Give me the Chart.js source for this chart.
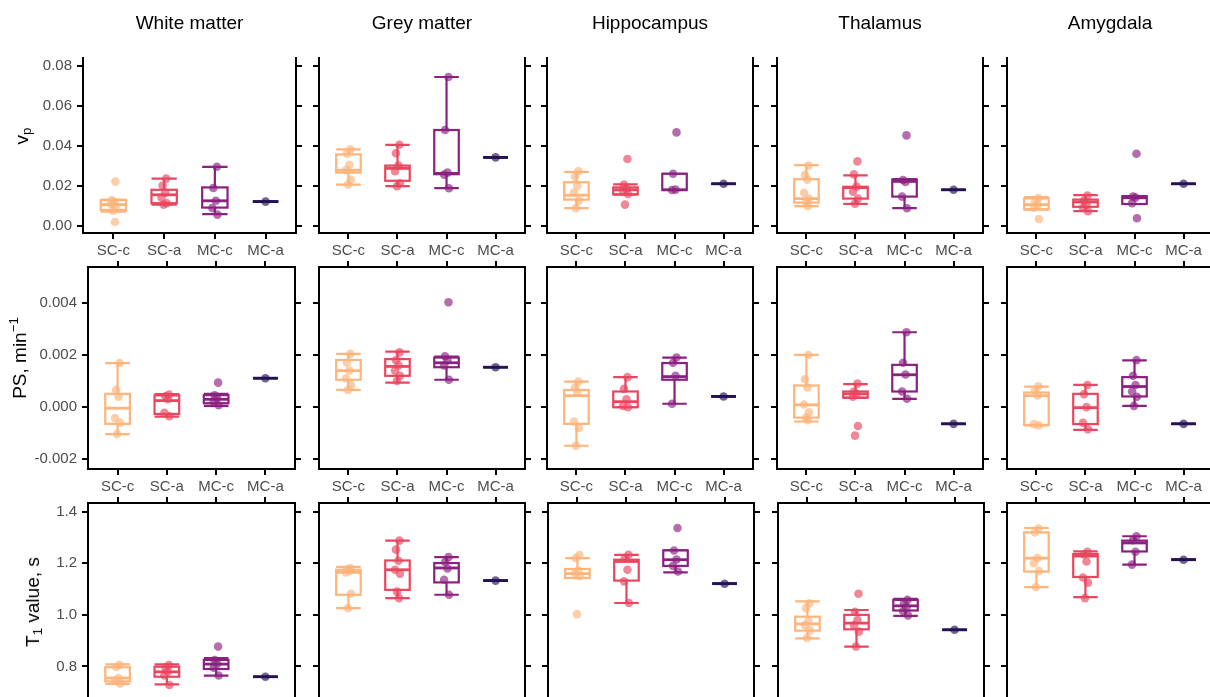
<!DOCTYPE html>
<html>
<head>
<meta charset="utf-8">
<title>vp, PS and T1 by region</title>
<script src="https://cdn.jsdelivr.net/npm/chart.js@4.4.1/dist/chart.umd.min.js"></script>
<style>
  html, body { margin: 0; padding: 0; background: #fff; }
  body { width: 1210px; height: 697px; overflow: hidden; position: relative; font-family: "Liberation Sans", Arial, sans-serif; }
  canvas { position: absolute; }
  .col-title { position: absolute; top: 12px; font-size: 19px; line-height: 22px; transform: translateX(-50%); white-space: nowrap; color: #000; }
  .row-title { position: absolute; font-size: 19px; line-height: 22px; white-space: nowrap; transform: translate(-50%, -50%) rotate(-90deg); color: #000; }
  .row-title .sub { font-size: 70%; vertical-align: -0.25em; line-height: 0; }
  .row-title .sup { font-size: 70%; vertical-align: 0.6em; line-height: 0; }
</style>
</head>
<body>
<script>
// =============================
// DATA
// =============================
const GROUPS = ["SC-c", "SC-a", "MC-c", "MC-a"];
const REGIONS = ["White matter", "Grey matter", "Hippocampus", "Thalamus", "Amygdala"];
const COLORS = ["#FEB47B", "#E8475F", "#8A2180", "#251255"];

const vpTicks = [0, 0.02, 0.04, 0.06, 0.08];
const psTicks = [-0.002, 0, 0.002, 0.004];
const t1Ticks = [0.8, 1.0, 1.2, 1.4];

// box stats per region, per group: [lower whisker, q1, median, q3, upper whisker]
const vpBoxes = [
  [[0.0070, 0.0078, 0.0105, 0.0127, 0.0130], [0.0105, 0.0112, 0.0154, 0.0179, 0.0235], [0.0057, 0.0090, 0.0124, 0.0191, 0.0294], [0.0120, 0.0120, 0.0120, 0.0120, 0.0120]],
  [[0.0205, 0.0265, 0.0277, 0.0356, 0.0381], [0.0197, 0.0224, 0.0286, 0.0300, 0.0404], [0.0187, 0.0257, 0.0261, 0.0478, 0.0743], [0.0341, 0.0341, 0.0341, 0.0341, 0.0341]],
  [[0.0087, 0.0130, 0.0152, 0.0217, 0.0269], [0.0155, 0.0157, 0.0179, 0.0191, 0.0206], [0.0178, 0.0178, 0.0179, 0.0259, 0.0259], [0.0209, 0.0209, 0.0209, 0.0209, 0.0209]],
  [[0.0097, 0.0115, 0.0135, 0.0232, 0.0302], [0.0109, 0.0135, 0.0190, 0.0194, 0.0251], [0.0087, 0.0145, 0.0221, 0.0230, 0.0232], [0.0179, 0.0179, 0.0179, 0.0179, 0.0179]],
  [[0.0080, 0.0082, 0.0105, 0.0136, 0.0142], [0.0072, 0.0094, 0.0118, 0.0130, 0.0152], [0.0108, 0.0108, 0.0139, 0.0147, 0.0147], [0.0209, 0.0209, 0.0209, 0.0209, 0.0209]]
];
const vpPoints = [
  [[0.0220, 0.0128, 0.0118, 0.0108, 0.0095, 0.0075, 0.0018], [0.0235, 0.0200, 0.0165, 0.0140, 0.0112, 0.0105], [0.0294, 0.0188, 0.0124, 0.0088, 0.0055], [0.0120]],
  [[0.0381, 0.0360, 0.0304, 0.0278, 0.0229, 0.0205], [0.0404, 0.0362, 0.0300, 0.0272, 0.0212, 0.0197], [0.0743, 0.0478, 0.0265, 0.0255, 0.0187], [0.0341]],
  [[0.0272, 0.0245, 0.0200, 0.0165, 0.0125, 0.0087], [0.0333, 0.0205, 0.0185, 0.0172, 0.0158, 0.0105], [0.0466, 0.0259, 0.0180, 0.0178], [0.0209]],
  [[0.0300, 0.0254, 0.0230, 0.0164, 0.0135, 0.0115, 0.0097], [0.0321, 0.0256, 0.0195, 0.0170, 0.0135, 0.0110], [0.0451, 0.0228, 0.0218, 0.0145, 0.0087], [0.0179]],
  [[0.0138, 0.0122, 0.0105, 0.0090, 0.0033], [0.0150, 0.0125, 0.0105, 0.0090, 0.0072], [0.0359, 0.0145, 0.0140, 0.0112, 0.0037], [0.0209]]
];

const psBoxes = [
  [[-0.00103, -0.00064, -0.00004, 0.00051, 0.00169], [-0.00036, -0.00026, 0.00025, 0.00045, 0.00050], [0.00005, 0.00015, 0.00030, 0.00046, 0.00051], [0.00111, 0.00111, 0.00111, 0.00111, 0.00111]],
  [[0.00066, 0.00105, 0.00140, 0.00181, 0.00204], [0.00094, 0.00120, 0.00156, 0.00184, 0.00213], [0.00105, 0.00153, 0.00170, 0.00190, 0.00194], [0.00153, 0.00153, 0.00153, 0.00153, 0.00153]],
  [[-0.00148, -0.00064, 0.00044, 0.00066, 0.00098], [0.00000, 0.00000, 0.00021, 0.00060, 0.00115], [0.00013, 0.00105, 0.00117, 0.00169, 0.00190], [0.00041, 0.00041, 0.00041, 0.00041, 0.00041]],
  [[-0.00055, -0.00040, 0.00009, 0.00083, 0.00200], [0.00035, 0.00037, 0.00051, 0.00060, 0.00088], [0.00032, 0.00060, 0.00124, 0.00162, 0.00287], [-0.00064, -0.00064, -0.00064, -0.00064, -0.00064]],
  [[-0.00070, -0.00068, 0.00044, 0.00056, 0.00079], [-0.00087, -0.00065, -0.00002, 0.00051, 0.00085], [0.00005, 0.00041, 0.00079, 0.00115, 0.00179], [-0.00064, -0.00064, -0.00064, -0.00064, -0.00064]]
];
const psPoints = [
  [[0.00169, 0.00066, 0.00040, -0.00042, -0.00060, -0.00103], [0.00048, 0.00042, 0.00030, -0.00022, -0.00035], [0.00094, 0.00045, 0.00035, 0.00020, 0.00007], [0.00111]],
  [[0.00204, 0.00170, 0.00140, 0.00110, 0.00085, 0.00066], [0.00210, 0.00180, 0.00160, 0.00140, 0.00120, 0.00100], [0.00402, 0.00195, 0.00180, 0.00160, 0.00105], [0.00153]],
  [[0.00098, 0.00075, 0.00055, -0.00055, -0.00080, -0.00148], [0.00115, 0.00070, 0.00030, 0.00005, 0.00000], [0.00190, 0.00170, 0.00120, 0.00013], [0.00041]],
  [[0.00200, 0.00107, 0.00075, 0.00010, -0.00020, -0.00040, -0.00050], [0.00090, 0.00060, 0.00050, 0.00040, -0.00072, -0.00109], [0.00287, 0.00170, 0.00125, 0.00060, 0.00032], [-0.00064]],
  [[0.00080, 0.00065, 0.00045, -0.00065, -0.00070], [0.00085, 0.00050, 0.00000, -0.00060, -0.00085], [0.00180, 0.00120, 0.00085, 0.00060, 0.00040, 0.00005], [-0.00064]]
];

const t1Boxes = [
  [[0.732, 0.742, 0.755, 0.797, 0.808], [0.730, 0.760, 0.779, 0.799, 0.808], [0.764, 0.790, 0.809, 0.825, 0.832], [0.760, 0.760, 0.760, 0.760, 0.760]],
  [[1.026, 1.078, 1.165, 1.175, 1.186], [1.065, 1.097, 1.175, 1.211, 1.288], [1.078, 1.126, 1.182, 1.201, 1.224], [1.133, 1.133, 1.133, 1.133, 1.133]],
  [[1.143, 1.143, 1.160, 1.178, 1.220], [1.046, 1.133, 1.207, 1.214, 1.233], [1.165, 1.190, 1.214, 1.250, 1.250], [1.121, 1.121, 1.121, 1.121, 1.121]],
  [[0.909, 0.939, 0.965, 0.993, 1.052], [0.877, 0.944, 0.968, 1.000, 1.019], [0.996, 1.017, 1.035, 1.058, 1.062], [0.942, 0.942, 0.942, 0.942, 0.942]],
  [[1.108, 1.168, 1.220, 1.320, 1.337], [1.069, 1.147, 1.228, 1.236, 1.246], [1.195, 1.246, 1.279, 1.288, 1.305], [1.214, 1.214, 1.214, 1.214, 1.214]]
];
const t1Points = [
  [[0.806, 0.798, 0.755, 0.745, 0.733], [0.805, 0.795, 0.780, 0.765, 0.728], [0.877, 0.825, 0.810, 0.795, 0.765], [0.760]],
  [[1.182, 1.176, 1.170, 1.165, 1.082, 1.026], [1.288, 1.253, 1.210, 1.175, 1.160, 1.090, 1.065], [1.224, 1.205, 1.180, 1.136, 1.078], [1.133]],
  [[1.232, 1.220, 1.172, 1.160, 1.150, 1.003], [1.233, 1.220, 1.175, 1.130, 1.046], [1.337, 1.250, 1.215, 1.190, 1.168], [1.121]],
  [[1.045, 1.026, 0.975, 0.960, 0.940, 0.910], [1.082, 1.012, 0.980, 0.960, 0.935, 0.877], [1.058, 1.045, 1.030, 1.015, 0.998], [0.942]],
  [[1.335, 1.320, 1.220, 1.200, 1.170, 1.108], [1.245, 1.235, 1.207, 1.145, 1.125, 1.065], [1.305, 1.290, 1.245, 1.195], [1.214]]
];

// small fixed horizontal offsets so overlapping points separate a little
const JITTER = [0.04, -0.03, 0.02, -0.05, 0.05, -0.01, 0.03];

// =============================
// Layout
// =============================
const ROWS = [
  { boxes: vpBoxes, points: vpPoints, ticks: vpTicks, digits: 2, min: -0.0037, max: 0.0838, top: 38, height: 195, topAxis: false,
    lefts: [83, 319, 547, 777, 1007], widths: [213, 206, 206, 206, 206] },
  { boxes: psBoxes, points: psPoints, ticks: psTicks, digits: 3, min: -0.00237, max: 0.00537, top: 267, height: 202, topAxis: true,
    lefts: [88, 319, 547, 777, 1007], widths: [207, 206, 206, 206, 206] },
  { boxes: t1Boxes, points: t1Points, ticks: t1Ticks, digits: 1, min: 0.662, max: 1.434, top: 503, height: 199, topAxis: true,
    lefts: [88, 319, 548, 778, 1007], widths: [207, 206, 206, 206, 206] }
];
const ROW_TITLES = [
  { html: 'v<span class="sub">p</span>', x: 22, y: 136 },
  { html: 'PS, min<span class="sup">\u22121</span>', x: 20, y: 358 },
  { html: 'T<span class="sub">1</span> value, s', x: 33, y: 602 }
];

const FONT = { family: "'Liberation Sans', Arial, sans-serif", size: 15 };
const TICK_COLOR = "#4D4D4D";
const BOX_HALF = 0.25;

function rgba(hex, a) {
  const n = parseInt(hex.slice(1), 16);
  return `rgba(${(n >> 16) & 255}, ${(n >> 8) & 255}, ${n & 255}, ${a})`;
}

// =============================
// Box + whisker plugin (drawn through the chart's scales)
// =============================
function boxPlugin(stats) {
  return {
    id: "boxes",
    beforeDatasetsDraw(chart) {
      const { ctx, scales: { x, y } } = chart;
      stats.forEach((s, i) => {
        const [lo, q1, med, q3, hi] = s.map(v => y.getPixelForValue(v));
        const xm = x.getPixelForValue(i + 1);
        const xl = x.getPixelForValue(i + 1 - BOX_HALF);
        const xr = x.getPixelForValue(i + 1 + BOX_HALF);
        ctx.save();
        ctx.strokeStyle = COLORS[i];
        ctx.lineWidth = 2.2;
        ctx.beginPath();
        ctx.moveTo(xm, hi); ctx.lineTo(xm, q3);
        ctx.moveTo(xm, q1); ctx.lineTo(xm, lo);
        ctx.moveTo(xl, hi); ctx.lineTo(xr, hi);
        ctx.moveTo(xl, lo); ctx.lineTo(xr, lo);
        ctx.stroke();
        ctx.fillStyle = "#fff";
        ctx.fillRect(xl, q3, xr - xl, q1 - q3);
        ctx.strokeRect(xl, q3, xr - xl, q1 - q3);
        ctx.lineWidth = 2.8;
        ctx.beginPath();
        ctx.moveTo(xl, med); ctx.lineTo(xr, med);
        ctx.stroke();
        ctx.restore();
      });
    }
  };
}

// =============================
// Panels
// =============================
function axisStyle() {
  return {
    grid: { display: true, drawOnChartArea: false, drawTicks: true, tickLength: 6, lineWidth: 2, tickWidth: 2, tickColor: "#000" },
    border: { display: true, color: "#000", width: 2 }
  };
}

function makePanel(r, c) {
  const row = ROWS[r];
  const L = c === 0 ? 70 : 12, R = 12, T = 20, B = 28;
  const W = row.widths[c], H = row.height;

  const canvas = document.createElement("canvas");
  canvas.width = L + W + R;
  canvas.height = T + H + B;
  canvas.style.left = (row.lefts[c] - L) + "px";
  canvas.style.top = (row.top - T) + "px";
  document.body.appendChild(canvas);

  const groupTicks = s => { s.ticks = GROUPS.map((g, i) => ({ value: i + 1 })); };
  const valueTicks = s => { s.ticks = row.ticks.map(v => ({ value: v })); };

  const datasets = GROUPS.map((g, i) => ({
    label: g,
    data: row.points[c][i].map((v, k) => ({ x: i + 1 + (row.points[c][i].length > 1 ? JITTER[k % JITTER.length] : 0), y: v })),
    backgroundColor: rgba(COLORS[i], 0.65),
    borderWidth: 0,
    pointRadius: 4.3,
    xAxisID: "x",
    yAxisID: "y"
  }));

  new Chart(canvas, {
    type: "scatter",
    data: { datasets },
    plugins: [boxPlugin(row.boxes[c])],
    options: {
      responsive: false,
      animation: false,
      devicePixelRatio: 1,
      events: [],
      layout: { padding: { top: row.topAxis ? 0 : T, left: 0, right: 0, bottom: 0 } },
      plugins: { legend: { display: false }, tooltip: { enabled: false } },
      scales: {
        x: {
          ...axisStyle(), type: "linear", position: "bottom", min: 0.4, max: 4.6,
          afterBuildTicks: groupTicks,
          afterFit: s => { s.height = B; },
          ticks: { callback: v => GROUPS[Math.round(v) - 1], font: FONT, color: TICK_COLOR, padding: 3, maxRotation: 0, autoSkip: false }
        },
        x2: {
          ...axisStyle(), type: "linear", position: "top", min: 0.4, max: 4.6, display: row.topAxis,
          afterBuildTicks: groupTicks,
          afterFit: s => { s.height = T; },
          ticks: { display: false }
        },
        y: {
          ...axisStyle(), type: "linear", position: "left", min: row.min, max: row.max,
          afterBuildTicks: valueTicks,
          afterFit: s => { s.width = L; },
          ticks: { display: c === 0, callback: v => v.toFixed(row.digits), font: FONT, color: TICK_COLOR, padding: 5 }
        },
        y2: {
          ...axisStyle(), type: "linear", position: "right", min: row.min, max: row.max,
          afterBuildTicks: valueTicks,
          afterFit: s => { s.width = R; },
          ticks: { display: false }
        }
      }
    }
  });
}

ROWS.forEach((row, r) => REGIONS.forEach((name, c) => makePanel(r, c)));

// =============================
// Titles
// =============================
REGIONS.forEach((name, c) => {
  const d = document.createElement("div");
  d.className = "col-title";
  d.textContent = name;
  d.style.left = (ROWS[0].lefts[c] + ROWS[0].widths[c] / 2) + "px";
  document.body.appendChild(d);
});

ROW_TITLES.forEach(t => {
  const d = document.createElement("div");
  d.className = "row-title";
  d.innerHTML = t.html;
  d.style.left = t.x + "px";
  d.style.top = t.y + "px";
  document.body.appendChild(d);
});
</script>
</body>
</html>
